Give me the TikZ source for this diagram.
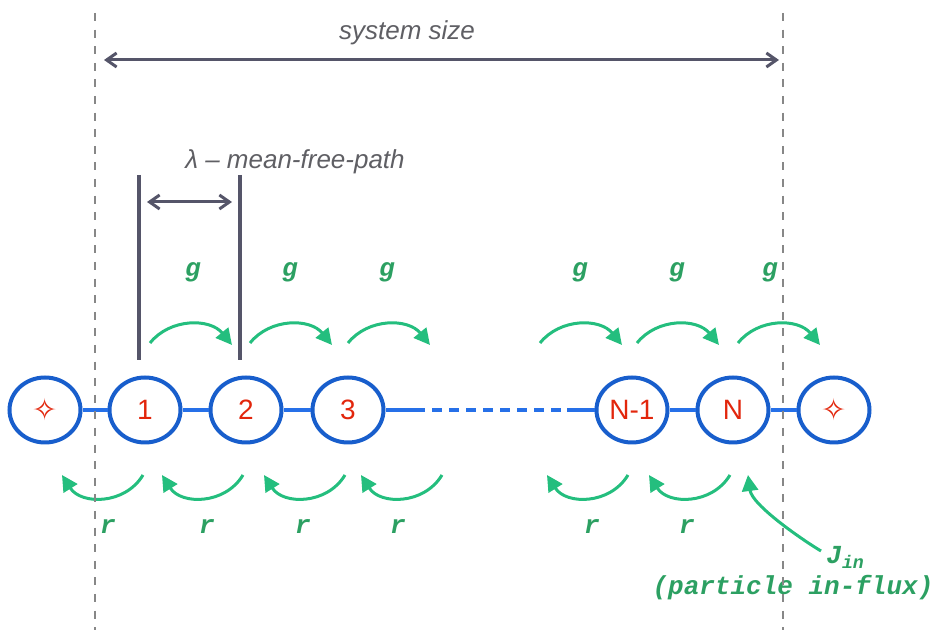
\documentclass[tikz,border=0pt]{standalone}
\usepackage{fontspec}
\setsansfont{Liberation Sans}
\setmonofont{Liberation Mono}
\newfontfamily\symfont{DejaVu Sans}
\usetikzlibrary{arrows.meta,shapes.geometric,calc}
\definecolor{siteblue}{RGB}{24,94,204}
\definecolor{linkblue}{RGB}{38,112,232}
\definecolor{sitered}{RGB}{226,38,12}
\definecolor{hopgreen}{RGB}{36,190,126}
\definecolor{labgreen}{RGB}{44,160,98}
\definecolor{rulegray}{RGB}{135,135,135}
\definecolor{dimgray}{RGB}{85,85,105}
\definecolor{textgray}{RGB}{95,95,100}

\begin{document}
\begin{tikzpicture}[x=0.5pt,y=-0.5pt,
  site/.style={ellipse,draw=siteblue,line width=2pt,minimum width=35.5pt,
    minimum height=32.5pt,inner sep=0pt,text=sitered,
    font=\sffamily\fontsize{14}{16}\selectfont},
  link/.style={linkblue,line width=1.6pt},
  hop/.style={hopgreen,line width=1.5pt,-{Triangle[length=8pt,width=8pt]}},
  rate/.style={labgreen,inner sep=0pt,font=\ttfamily\bfseries\itshape\fontsize{13}{15}\selectfont},
  dim/.style={dimgray,line width=1.5pt,
    {Straight Barb[length=5pt,width=7pt]}-{Straight Barb[length=5pt,width=7pt]}},
  bar/.style={dimgray,line width=1.6pt},
  wall/.style={rulegray,line width=1.3pt,dash pattern=on 4pt off 4.3pt},
  note/.style={textgray,inner sep=0pt,font=\sffamily\itshape\fontsize{13}{15}\selectfont}]

\useasboundingbox (0,0) rectangle (934,630);

% ---- layout parameters ----
\def\yS{410}   % row of the sites
\def\yG{343}   % foot of the forward hops
\def\yR{475}   % foot of the backward hops

% sites along the chain
\node[site] (s0)  at (45,\yS)  {\symfont\fontsize{15}{17}\selectfont ✧};
\node[site] (s1)  at (145,\yS) {1};
\node[site] (s2)  at (246,\yS) {2};
\node[site] (s3)  at (348,\yS) {3};
\node[site] (sN1) at (632,\yS) {N-1};
\node[site] (sN)  at (733,\yS) {N};
\node[site] (s7)  at (834,\yS) {\symfont\fontsize{15}{17}\selectfont ✧};

% bonds, with the gap in the middle
\coordinate (gapL) at (415,\yS);
\coordinate (gapR) at (567,\yS);
\draw[link] (s0) -- (s1) (s1) -- (s2) (s2) -- (s3) (s3) -- (gapL);
\draw[link,dash pattern=on 5pt off 3.5pt] (gapL) -- (gapR);
\draw[link] (gapR) -- (sN1) (sN1) -- (sN) (sN) -- (s7);

% forward hops (g)
\foreach \x in {150,250,348,540,637,738}
  \draw[hop] (\x,\yG) .. controls +(20,-25) and +(-22,-27) .. (\x+82,\yG+2);
\foreach \x [count=\i] in {193,290,387,580,677,770}
  \node[rate] (g\i) at (\x,272) {g};

% backward hops (r)
\foreach \x in {143,243,345,442,628,730}
  \draw[hop] (\x,\yR) .. controls +(-18,30) and +(19,30) .. (\x-81,\yR);
\foreach \x [count=\i] in {108,207,303,398,592,687}
  \node[rate] (r\i) at (\x,527) {r};

% in-flux at the right end
\node[rate,anchor=west] (jin) at (826,557) {J\textsubscript{in}};
\node[rate] (flux) at (793,588) {(particle in-flux)};
\coordinate (jtip) at (748,475);
\draw[hop] ($(jin.west)+(-5,-6)$) .. controls +(-20,-12) and +(4,30) .. (jtip);

% mean free path
\coordinate (barAt) at (139,175);
\coordinate (barAb) at (139,360);
\coordinate (barBt) at (240,175);
\coordinate (barBb) at (240,360);
\draw[bar] (barAt) -- (barAb);
\draw[bar] (barBt) -- (barBb);
\coordinate (mfpL) at (147,202);
\coordinate (mfpR) at (232,202);
\draw[dim] (mfpL) -- (mfpR);
\node[note] (mfp) at (295,162) {λ – mean-free-path};

% system size and its walls
\coordinate (sysL) at (104,60);
\coordinate (sysR) at (779,60);
\draw[dim] (sysL) -- (sysR);
\node[note] (syslab) at (407,33) {system size};
\coordinate (wallLt) at (95,13);
\coordinate (wallLb) at (95,630);
\coordinate (wallRt) at (783,13);
\coordinate (wallRb) at (783,630);
\draw[wall] (wallLt) -- (wallLb);
\draw[wall] (wallRt) -- (wallRb);

\end{tikzpicture}
\end{document}
